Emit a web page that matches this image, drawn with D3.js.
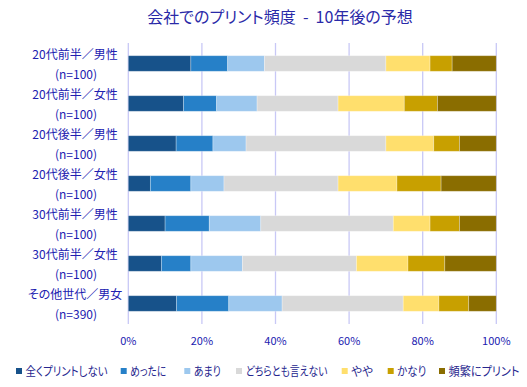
<!DOCTYPE html>
<html><head><meta charset="utf-8">
<script src="https://cdn.jsdelivr.net/npm/d3@7"></script>
<style>
html,body{margin:0;padding:0;background:#fff;}
svg{display:block;font-family:"Noto Sans CJK JP","Noto Sans",sans-serif;font-feature-settings:"palt";}
text{white-space:pre;}
</style></head>
<body><svg id="c" width="527" height="387"></svg>
<script>
const title = "会社でのプリント頻度  -  10年後の予想";
const categories = ["20代前半／男性","20代前半／女性","20代後半／男性","20代後半／女性","30代前半／男性","30代前半／女性","その他世代／男女"];
const sampleSizes = ["(n=100)","(n=100)","(n=100)","(n=100)","(n=100)","(n=100)","(n=390)"];
const seriesNames = ["全くプリントしない","めったに","あまり","どちらとも言えない","やや","かなり","頻繁にプリント"];
const seriesColors = ["#17528a","#2680c8","#9dc8ee","#d9d9d9","#ffdf6d","#c8a000","#8a6d00"];
const s1 = [17,15,13,6,10,9,13.1];       // 全くプリントしない
const s2 = [10,9,10,11,12,8,14.2];       // めったに
const s3 = [10,11,9,9,14,14,14.5];       // あまり
const s4 = [33,22,38,31,36,31,32.9];     // どちらとも言えない
const s5 = [12,18,13,16,10,14,9.7];      // やや
const s6 = [6,9,7,12,8,10,8.1];          // かなり
const s7 = [12,16,10,15,10,14,7.5];      // 頻繁にプリント
const seriesValues = [s1,s2,s3,s4,s5,s6,s7];
const xTicks = [0,20,40,60,80,100];
const xTickLabels = ["0%","20%","40%","60%","80%","100%"];

const svg = d3.select("#c");
const x = d3.scaleLinear().domain([0,100]).range([128.3,496.3]);
const y = d3.scaleBand().domain(categories).range([43.5,323.5]).paddingInner(0.61).paddingOuter(0.305);

// title
svg.append("text").attr("x",280).attr("y",23).attr("text-anchor","middle")
  .attr("font-size",16).attr("fill","#2a2aa8").text(title);

// gridlines
svg.append("g").selectAll("line").data(xTicks).join("line")
  .attr("x1",d=>x(d)).attr("x2",d=>x(d)).attr("y1",43).attr("y2",324)
  .attr("stroke","#c8c8f6").attr("stroke-width",1.3);

// stacked data
const rows = categories.map((c,i)=>{const o={cat:c}; seriesNames.forEach((s,j)=>o[s]=seriesValues[j][i]); return o;});
const stacked = d3.stack().keys(seriesNames)(rows);
svg.append("g").selectAll("g").data(stacked).join("g")
  .attr("fill",(d,i)=>seriesColors[i])
  .selectAll("rect").data(d=>d).join("rect")
  .attr("x",d=>x(d[0])).attr("width",d=>x(d[1])-x(d[0]))
  .attr("y",d=>y(d.data.cat)).attr("height",y.bandwidth())
  .attr("stroke","rgba(255,255,255,0.35)").attr("stroke-width",0.8);

// y labels
const yl = svg.append("g").selectAll("g").data(categories).join("g");
yl.append("text").attr("x",75).attr("y",c=>y(c)+y.bandwidth()/2-4.5)
  .attr("text-anchor","middle").attr("font-size",12).attr("fill","#2020b0").text(c=>c);
yl.append("text").attr("x",76).attr("y",(c,i)=>y(c)+y.bandwidth()/2+15)
  .attr("text-anchor","middle").attr("font-size",12).attr("fill","#2020b0").text((c,i)=>sampleSizes[i]);

// x axis labels
svg.append("g").selectAll("text").data(xTicks).join("text")
  .attr("x",d=>x(d)).attr("y",345).attr("text-anchor","middle")
  .attr("font-size",11).attr("fill","#2020b0").text((d,i)=>xTickLabels[i]);

// legend
const legX = [16,120.7,184.3,236,341.7,387.7,439];
const legW = [82,36,27,82,22,29,71];
const lg = svg.append("g").selectAll("g").data(seriesNames).join("g")
  .attr("transform",(d,i)=>`translate(${legX[i]},0)`);
lg.append("rect").attr("x",0).attr("y",368).attr("width",6).attr("height",6).attr("fill",(d,i)=>seriesColors[i]);
lg.append("text").attr("x",9.5).attr("y",376).attr("font-size",12).attr("fill","#26268e")
  .attr("textLength",(d,i)=>legW[i]).attr("lengthAdjust","spacingAndGlyphs").text(d=>d);
</script></body></html>
